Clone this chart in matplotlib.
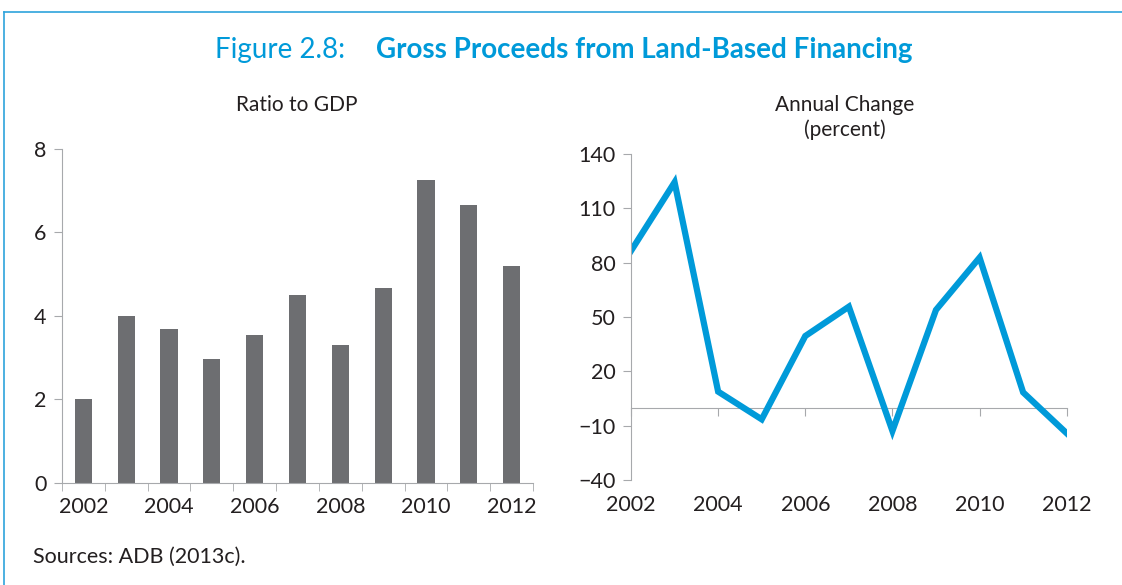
import matplotlib
matplotlib.use("Agg")
import matplotlib.pyplot as plt
from matplotlib.lines import Line2D
import numpy as np

# data
years = [2002, 2003, 2004, 2005, 2006, 2007, 2008, 2009, 2010, 2011, 2012]
ratio_to_gdp = [2.0, 4.0, 3.69, 2.97, 3.54, 4.49, 3.30, 4.66, 7.25, 6.66, 5.20]
annual_change = [86.5, 124.4, 8.8, -6.5, 39.5, 55.7, -12.9, 53.9, 82.8, 8.4, -14.2]
year_labels = ["2002", "2004", "2006", "2008", "2010", "2012"]

BLUE = "#009ad9"
BAR = "#6d6e71"
AXIS = "#a7a9ac"
TEXT = "#231f20"

plt.rcParams["font.family"] = ["Lato", "DejaVu Sans"]

fig = plt.figure(figsize=(11.22, 5.85), dpi=100)

# frame lines (top and left)
fig.add_artist(Line2D([4 / 1122, 1], [1 - 12 / 585, 1 - 12 / 585], color="#2ea3dc", lw=1.2))
fig.add_artist(Line2D([4 / 1122, 4 / 1122], [0, 1 - 12 / 585], color="#2ea3dc", lw=1.2))

fig.text(345 / 1122, 1 - 50 / 585, "Figure 2.8:", color=BLUE, fontsize=20, ha="right", va="center")
fig.text(376 / 1122, 1 - 50 / 585, "Gross Proceeds from Land-Based Financing", color=BLUE,
         fontsize=20, fontweight="bold", ha="left", va="center")

# left panel: bars
ax1 = fig.add_axes([62 / 1122, 1 - 482.7 / 585, 471 / 1122, 333.7 / 585])
x = np.arange(len(years))
ax1.bar(x, ratio_to_gdp, width=0.4, color=BAR)
ax1.set_xlim(-0.5, len(years) - 0.5)
ax1.set_ylim(0, 8)
ax1.set_yticks([0, 2, 4, 6, 8])
ax1.set_xticks(x[::2])
ax1.set_xticklabels(year_labels)
ax1.set_xticks(np.arange(-0.5, len(years), 1), minor=True)
ax1.tick_params(axis="x", which="major", length=0, pad=10)
ax1.tick_params(axis="x", which="minor", length=6, color=AXIS, direction="out")
ax1.tick_params(axis="y", length=6, color=AXIS, pad=5)
ax1.tick_params(labelsize=15.5, labelcolor=TEXT)
for s in ["top", "right"]:
    ax1.spines[s].set_visible(False)
for s in ["left", "bottom"]:
    ax1.spines[s].set_color(AXIS)
fig.text(297 / 1122, 1 - 105 / 585, "Ratio to GDP", fontsize=15, color=TEXT,
         ha="center", va="center")

# right panel: line
ax2 = fig.add_axes([631 / 1122, 1 - 480 / 585, 435.7 / 1122, 326 / 585])
ax2.plot(years, annual_change, color=BLUE, lw=4.5, solid_joinstyle="miter")
ax2.set_xlim(2002, 2012)
ax2.set_ylim(-40, 140)
ax2.set_yticks(range(-40, 141, 30))
ax2.set_yticklabels([str(v).replace("-", "\u2212") for v in range(-40, 141, 30)])
ax2.set_xticks(years[::2])
ax2.set_xticklabels(year_labels)
ax2.tick_params(axis="x", length=0, pad=11)
ax2.tick_params(axis="y", length=6, color=AXIS, pad=5)
ax2.tick_params(labelsize=15.5, labelcolor=TEXT)
for s in ["top", "right", "bottom"]:
    ax2.spines[s].set_visible(False)
ax2.spines["left"].set_color(AXIS)

# zero line with tick marks
zero_ax = ax2.secondary_xaxis(0, transform=ax2.transData)
zero_ax.set_xticks(years[::2])
zero_ax.tick_params(axis="x", length=6, color=AXIS, labelbottom=False)
zero_ax.spines["bottom"].set_color(AXIS)

fig.text(845 / 1122, 1 - 105 / 585, "Annual Change", fontsize=15, color=TEXT,
         ha="center", va="center")
fig.text(845 / 1122, 1 - 130 / 585, "(percent)", fontsize=15, color=TEXT,
         ha="center", va="center")

fig.text(33 / 1122, 1 - 557 / 585, "Sources: ADB (2013c).", fontsize=15.5, color=TEXT,
         ha="left", va="center")

fig.savefig("out.png", dpi=100)
